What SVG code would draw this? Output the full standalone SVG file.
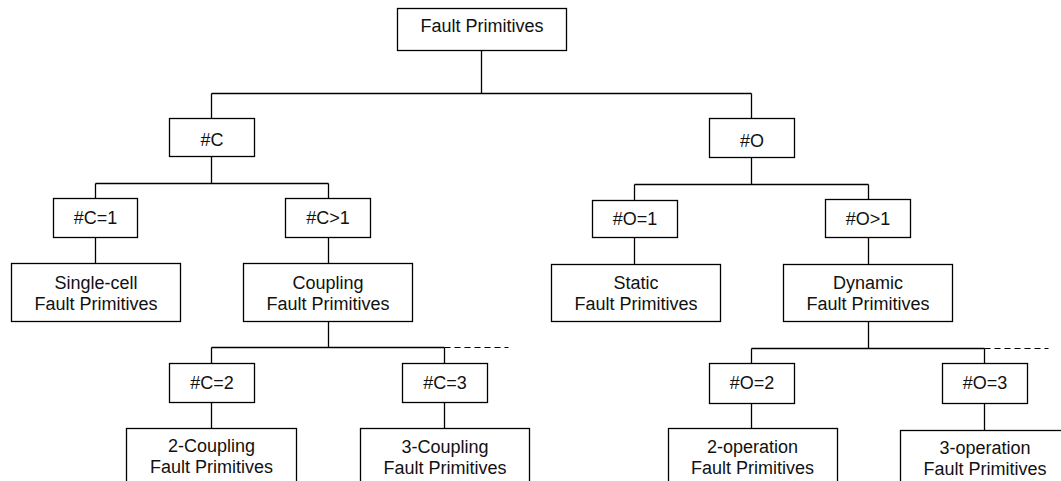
<svg xmlns="http://www.w3.org/2000/svg" width="1061" height="481" viewBox="0 0 1061 481">
<style>
rect{fill:#fff;stroke:#000;stroke-width:1.3}
text{font-family:"Liberation Sans",Arial,sans-serif;font-size:18px;fill:#111;text-anchor:middle}
.c{fill:none;stroke:#000;stroke-width:1.3}
.d{fill:none;stroke:#000;stroke-width:1.2;stroke-dasharray:6,4}
</style>
<rect x="0" y="0" width="1061" height="481" style="fill:#fff;stroke:none"/>
<g id="connectors">
<path class="c" d="M481.5,50.5V93.5M211.5,93.5H751.5M211.5,93.5V118.5M751.5,93.5V118.5"/>
<path class="c" d="M211.5,156.5V183.5M95.5,183.5H328.5M95.5,183.5V198.5M328.5,183.5V198.5"/>
<path class="c" d="M95.5,237.5V263.5M328.5,237.5V263.5"/>
<path class="c" d="M328.5,321.5V347.5M211.5,347.5H444.5M211.5,347.5V363.5M444.5,347.5V363.5"/>
<path class="d" d="M444.5,347.5H508.5"/>
<path class="c" d="M211.5,402.5V428.5M444.5,402.5V428.5"/>
<path class="c" d="M751.5,157.5V184.5M634.5,184.5H868.5M634.5,184.5V200.5M868.5,184.5V199.5"/>
<path class="c" d="M634.5,237.5V264.5M868.5,237.5V264.5"/>
<path class="c" d="M868.5,321.5V348.5M751.5,348.5H984.5M751.5,348.5V363.5M984.5,348.5V363.5"/>
<path class="d" d="M984.5,348.5H1048.5"/>
<path class="c" d="M751.5,403.5V428.5M984.5,403.5V430.5"/>
</g>
<g id="root"><rect x="397.5" y="8.5" width="169" height="42"/><text x="482" y="32">Fault Primitives</text></g>
<g id="nC"><rect x="169.5" y="118.5" width="85" height="38"/><text x="212" y="146">#C</text></g>
<g id="nO"><rect x="709.5" y="118.5" width="85" height="39"/><text x="752" y="146.5">#O</text></g>
<g id="nC1"><rect x="53.5" y="198.5" width="84" height="39"/><text x="95.5" y="224">#C=1</text></g>
<g id="nCgt1"><rect x="285.5" y="198.5" width="85" height="39"/><text x="328" y="224">#C&gt;1</text></g>
<g id="nO1"><rect x="592.5" y="200.5" width="85" height="37"/><text x="635" y="225">#O=1</text></g>
<g id="nOgt1"><rect x="825.5" y="199.5" width="85" height="38"/><text x="868" y="225">#O&gt;1</text></g>
<g id="single"><rect x="11.5" y="263.5" width="169" height="58"/><text x="96" y="288.5">Single-cell</text><text x="96" y="310">Fault Primitives</text></g>
<g id="coupling"><rect x="243.5" y="263.5" width="169" height="58"/><text x="328" y="289">Coupling</text><text x="328" y="309.5">Fault Primitives</text></g>
<g id="static"><rect x="551.5" y="264.5" width="169" height="57"/><text x="636" y="288.5">Static</text><text x="636" y="310">Fault Primitives</text></g>
<g id="dynamic"><rect x="783.5" y="264.5" width="169" height="57"/><text x="868" y="289">Dynamic</text><text x="868" y="309.5">Fault Primitives</text></g>
<g id="nC2"><rect x="169.5" y="363.5" width="85" height="39"/><text x="212" y="388.5">#C=2</text></g>
<g id="nC3"><rect x="402.5" y="363.5" width="85" height="39"/><text x="445" y="388.5">#C=3</text></g>
<g id="nO2"><rect x="709.5" y="363.5" width="85" height="40"/><text x="752" y="389">#O=2</text></g>
<g id="nO3"><rect x="942.5" y="363.5" width="85" height="40"/><text x="985" y="389">#O=3</text></g>
<g id="c2"><rect x="126.5" y="428.5" width="170" height="62"/><text x="211.5" y="452">2-Coupling</text><text x="211.5" y="473">Fault Primitives</text></g>
<g id="c3"><rect x="360.5" y="428.5" width="169" height="62"/><text x="445" y="452.5">3-Coupling</text><text x="445" y="473.5">Fault Primitives</text></g>
<g id="o2"><rect x="668.5" y="428.5" width="169" height="62"/><text x="752.5" y="453">2-operation</text><text x="752.5" y="474">Fault Primitives</text></g>
<g id="o3"><rect x="900.5" y="430.5" width="170" height="62"/><text x="985" y="454">3-operation</text><text x="985" y="475">Fault Primitives</text></g>
</svg>
